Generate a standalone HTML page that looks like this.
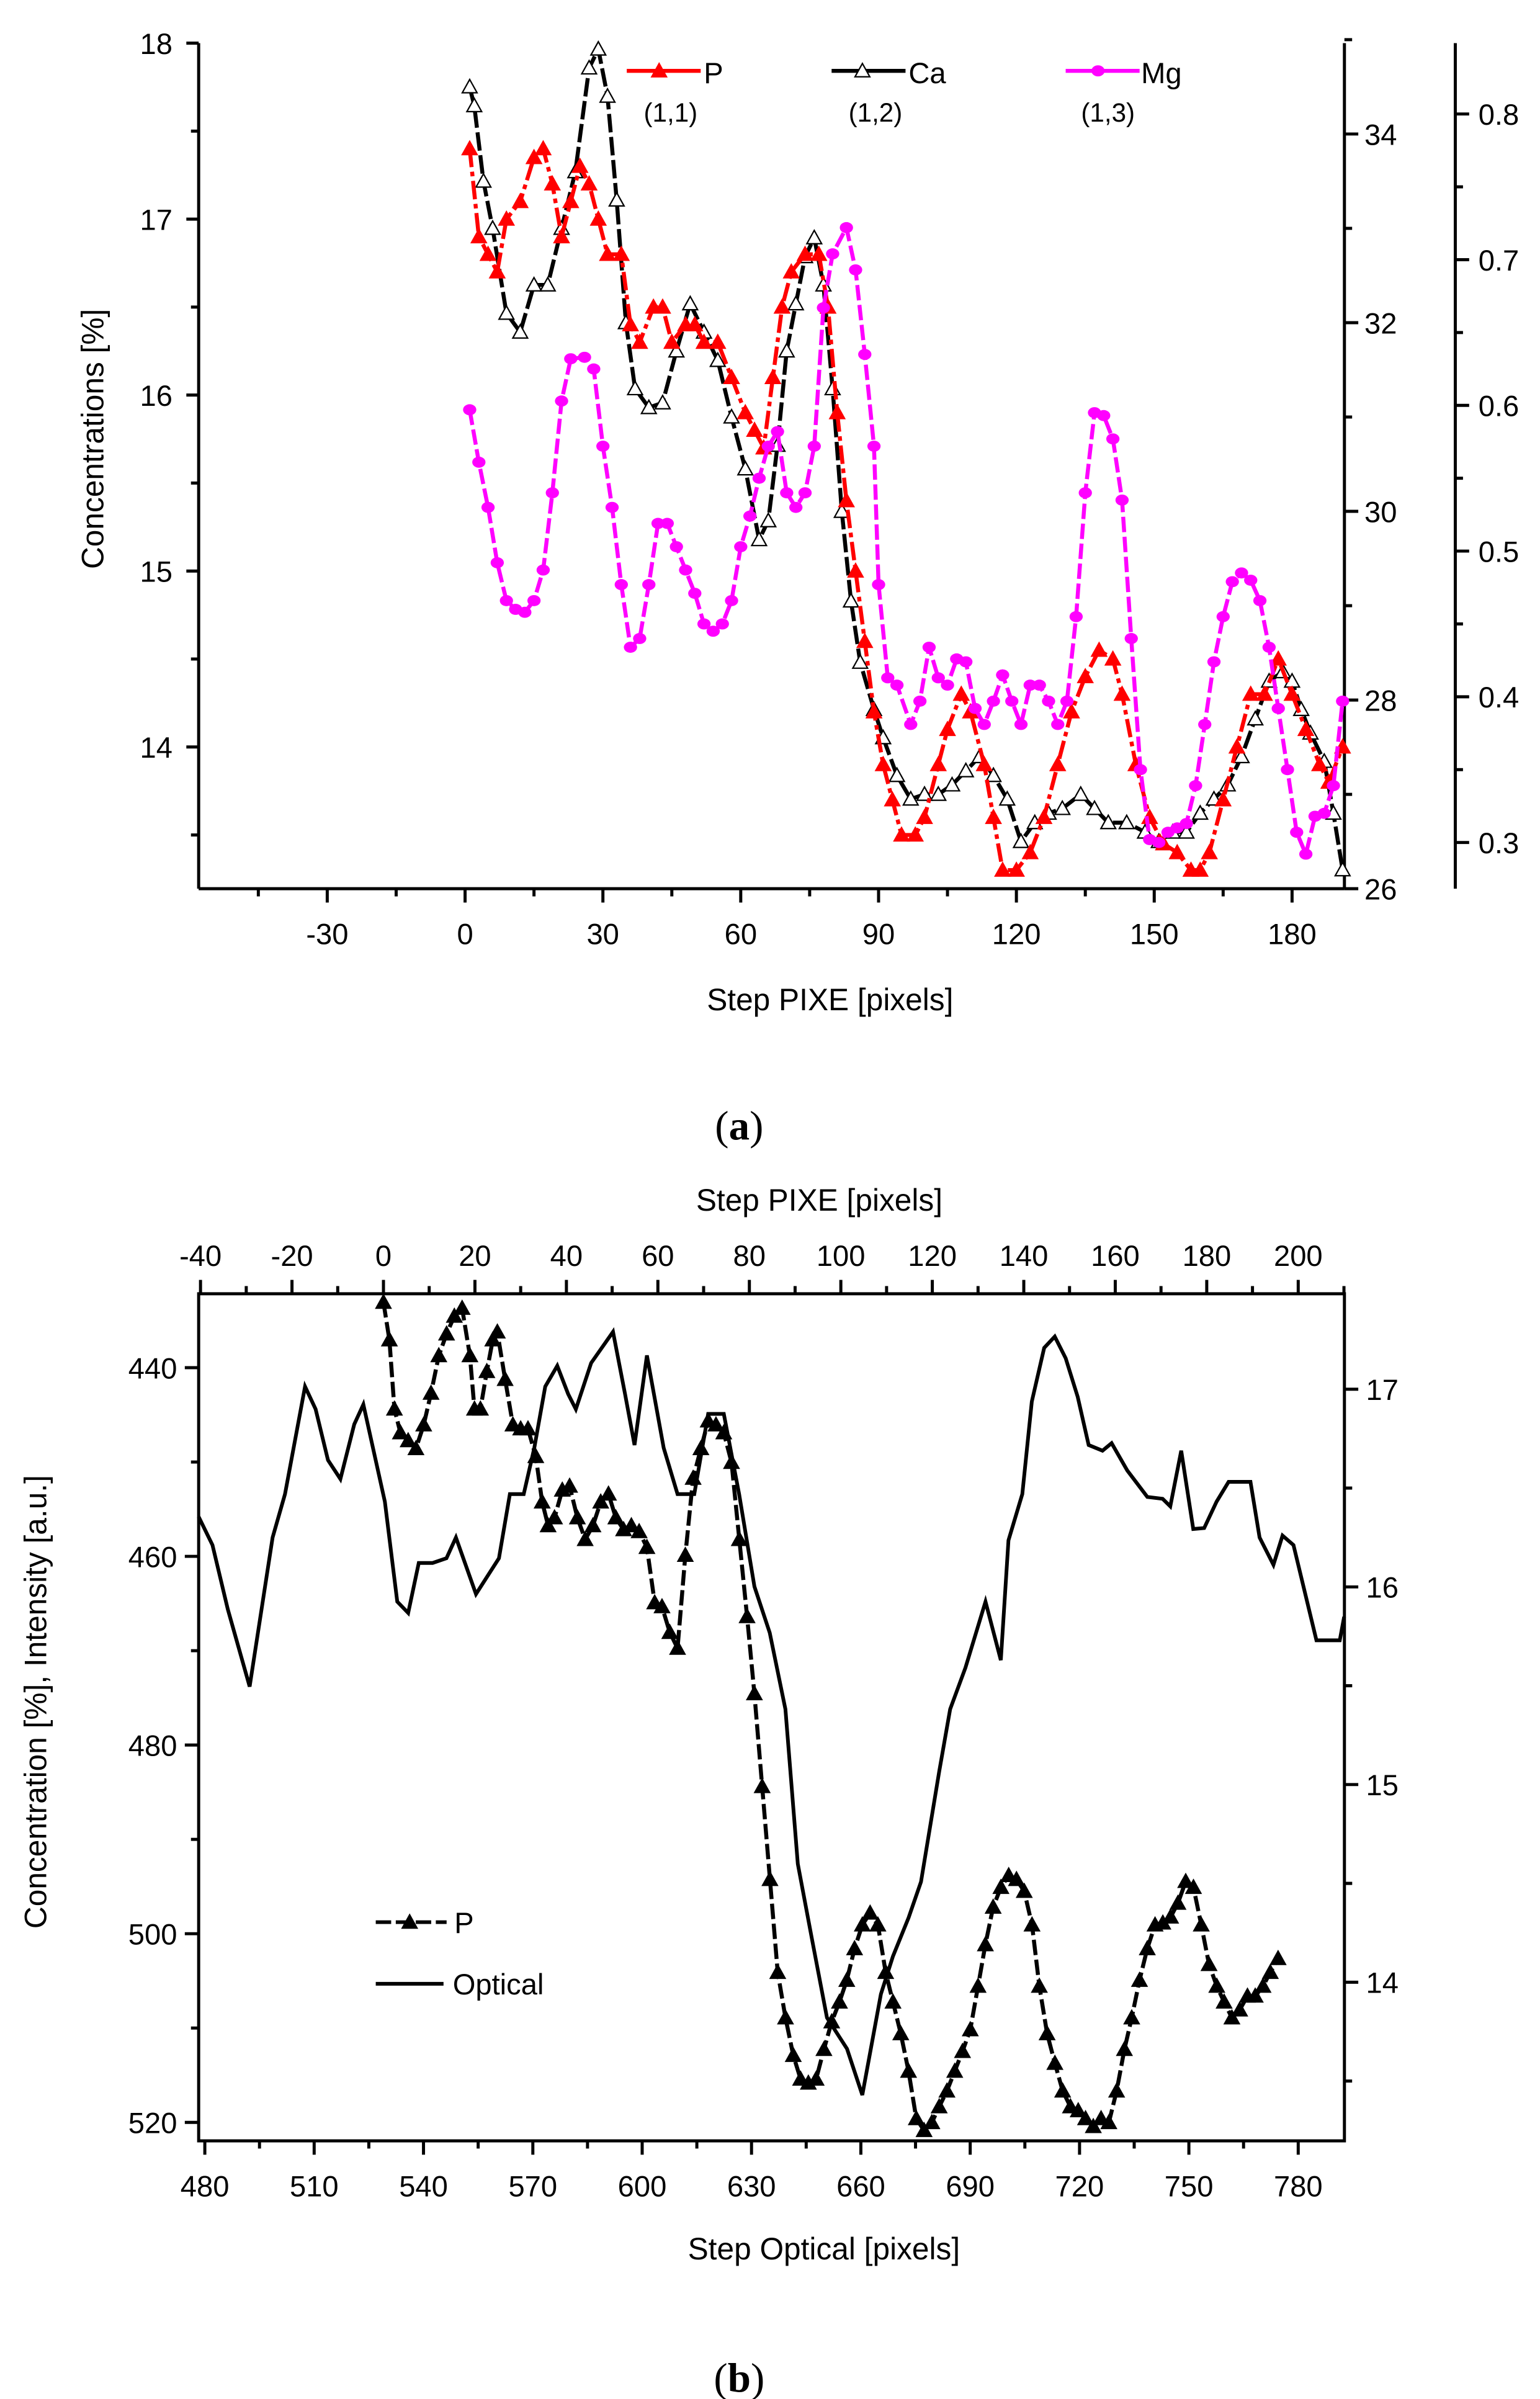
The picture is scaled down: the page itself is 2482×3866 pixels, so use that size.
<!DOCTYPE html>
<html><head><meta charset="utf-8"><style>
html,body{margin:0;padding:0;background:#fff}
svg{display:block}
text{font-family:"Liberation Sans",Arial,sans-serif;fill:#000}
</style></head><body>
<svg id="fig" width="2482" height="3866" viewBox="0 0 1000 1557.6" xmlns="http://www.w3.org/2000/svg">
<g id="top"></g>
<g id="bot"></g>
<text x="480" y="740" font-size="27" text-anchor="middle" style="font-family:'Liberation Serif',serif">(<tspan font-weight="bold">a</tspan>)</text>
<text x="480" y="1553" font-size="27" text-anchor="middle" style="font-family:'Liberation Serif',serif">(<tspan font-weight="bold">b</tspan>)</text>
</svg>
<script>
// ---------- Chart (a) data ----------
const pSteps=[1,3,5,7,9,12,15,17,19,21,23,25,27,29,31,34,36,38,41,43,45,48,50,52,55,58,61,63,65,67,69,71,74,77,79,81,83,85,87,89,91,93,95,98,100,103,105,108,110,113,115,117,120,123,126,129,132,135,138,141,143,146,149,152,155,158,160,162,165,168,171,174,177,180,183,186,188,191];
const pVals=[17.4,16.9,16.8,16.7,17.0,17.1,17.35,17.4,17.2,16.9,17.1,17.3,17.2,17.0,16.8,16.8,16.4,16.3,16.5,16.5,16.3,16.4,16.4,16.3,16.3,16.1,15.9,15.8,15.7,16.1,16.5,16.7,16.8,16.8,16.5,15.9,15.4,15.0,14.6,14.2,13.9,13.7,13.5,13.5,13.6,13.9,14.1,14.3,14.2,13.9,13.6,13.3,13.3,13.4,13.6,13.9,14.2,14.4,14.55,14.5,14.3,13.9,13.6,13.45,13.4,13.3,13.3,13.4,13.7,14.0,14.3,14.3,14.5,14.3,14.1,13.9,13.8,14.0];
const caSteps=[1,2,4,6,9,12,15,18,21,24,27,29,31,33,35,37,40,43,46,49,52,55,58,61,64,66,68,70,72,74,76,78,80,82,84,86,89,91,94,97,100,103,106,109,112,115,118,121,124,127,130,134,137,140,144,148,151,154,157,160,163,166,169,172,175,178,180,182,184,187,189,191];
const caVals=[34.5,34.3,33.5,33.0,32.1,31.9,32.4,32.4,33.0,33.6,34.7,34.9,34.4,33.3,32.0,31.3,31.1,31.15,31.7,32.2,31.9,31.6,31.0,30.45,29.7,29.9,30.7,31.7,32.2,32.7,32.9,32.4,31.3,30.0,29.05,28.4,27.9,27.6,27.2,26.95,27.0,27.0,27.1,27.25,27.4,27.2,26.95,26.5,26.7,26.8,26.85,27.0,26.85,26.7,26.7,26.6,26.5,26.6,26.6,26.8,26.95,27.1,27.4,27.8,28.2,28.3,28.2,27.9,27.65,27.35,26.8,26.2];
const mgSteps=[1,3,5,7,9,11,13,15,17,19,21,23,26,28,30,32,34,36,38,40,42,44,46,48,50,52,54,56,58,60,62,64,66,68,70,72,74,76,78,80,83,85,87,89,90,92,94,97,99,101,103,105,107,109,111,113,115,117,119,121,123,125,127,129,131,133,135,137,139,141,143,145,147,149,151,153,155,157,159,161,163,165,167,169,171,173,175,177,179,181,183,185,187,189,191];
const mgVals=[0.597,0.561,0.53,0.492,0.466,0.46,0.458,0.466,0.487,0.54,0.603,0.632,0.633,0.625,0.572,0.53,0.477,0.434,0.44,0.477,0.519,0.519,0.503,0.487,0.471,0.45,0.445,0.45,0.466,0.503,0.524,0.55,0.572,0.582,0.54,0.53,0.54,0.572,0.667,0.704,0.722,0.693,0.635,0.572,0.477,0.413,0.408,0.381,0.397,0.434,0.413,0.408,0.426,0.424,0.392,0.381,0.397,0.415,0.397,0.381,0.408,0.408,0.397,0.381,0.397,0.455,0.54,0.595,0.593,0.577,0.535,0.44,0.35,0.302,0.3,0.307,0.31,0.313,0.339,0.381,0.424,0.455,0.479,0.485,0.48,0.466,0.434,0.392,0.35,0.307,0.292,0.318,0.32,0.339,0.397];
const aXTicks=[-30,0,30,60,90,120,150,180];
const aLeftTicks=[14,15,16,17,18];
const aCaTicks=[26,28,30,32,34];
const aMgTicks=[0.3,0.4,0.5,0.6,0.7,0.8];
// ---------- Chart (b) data ----------
const optSteps=[478.3,482.1,486.3,492.3,498.6,502,507.5,510.4,513.8,517.2,521,523.5,529.4,532.8,535.8,538.7,542.5,546.3,548.9,554.4,560.7,563.7,567.5,570.4,573.4,576.7,579.7,581.8,586,592,595.3,597.9,601.3,605.9,609.7,614.3,618.1,622.4,626.6,630.8,635,639.3,642.7,646.5,650.7,656.2,660.4,665.5,668.8,673.1,676.5,681.5,684.5,688.7,694.2,698.4,700.5,704.3,706.9,710.3,713.2,716.2,719.5,722.5,726.3,728.8,733.1,738.6,742.8,744.9,747.9,751.2,754.2,757.6,760.9,766.9,769.4,773.2,775.7,778.7,785,791.4,792.6];
const optVals=[455.8,458.8,465.6,473.8,458,453.4,442,444.4,449.8,451.8,446,443.9,454.2,464.8,466,460.7,460.7,460.2,458,464,460.2,453.4,453.4,448.5,442,439.8,442.8,444.4,439.5,436.2,442.8,448.2,438.7,448.5,453.4,453.4,444.9,444.9,453.4,463.2,468.1,476.2,492.6,500.4,508.9,512.2,517.1,506.4,502.4,498.3,494.5,482.8,476.2,471.8,464.8,471,458.3,453.4,443.6,437.9,436.7,439,443.1,448.2,448.8,448,450.9,453.7,453.9,454.7,448.8,457.1,457,454.2,452.1,452.1,458,460.9,457.8,458.8,468.9,468.9,466.4];
const pbSteps=[0,1.3,2.4,3.7,5.4,7.1,8.8,10.4,12.1,13.8,15.5,17.2,18.9,19.9,21.2,22.6,23.9,24.9,26.6,28.3,30,31.6,33.3,34.7,36,37.4,39.1,40.7,42.4,44.1,45.8,47.5,49.2,50.8,52.5,54.2,55.9,57.6,59.3,60.9,62.6,64.3,66,67.7,69.4,71,72.7,74.4,76.1,77.8,79.5,81.1,82.8,84.5,86.2,87.9,89.6,91.2,92.9,94.6,96.3,98,99.7,101.3,103,104.7,106.4,108.1,109.8,111.4,113.1,114.8,116.5,118.2,119.9,121.5,123.2,124.9,126.6,128.3,130,131.6,133.3,135,136.7,138.4,140.1,141.8,143.4,145.1,146.8,148.5,150.2,151.9,153.5,155.2,156.9,158.6,160.3,162,163.6,165.3,167,168.7,170.4,172.1,173.7,175.4,177.1,178.8,180.5,182.2,183.8,185.5,187.2,188.9,190.6,192.3,193.9,195.6];
const pbVals=[17.44,17.25,16.9,16.78,16.74,16.7,16.82,16.98,17.17,17.28,17.37,17.41,17.17,16.9,16.9,17.09,17.25,17.29,17.05,16.82,16.8,16.8,16.66,16.43,16.31,16.35,16.49,16.51,16.35,16.24,16.31,16.43,16.47,16.35,16.29,16.31,16.28,16.2,15.92,15.9,15.77,15.69,16.16,16.55,16.7,16.84,16.82,16.78,16.63,16.24,15.85,15.46,14.99,14.52,14.05,13.82,13.63,13.51,13.49,13.51,13.66,13.8,13.9,14.01,14.17,14.29,14.35,14.29,14.05,13.9,13.74,13.55,13.31,13.25,13.29,13.37,13.45,13.55,13.65,13.76,13.98,14.19,14.38,14.48,14.54,14.52,14.46,14.29,13.98,13.74,13.59,13.45,13.37,13.35,13.31,13.27,13.31,13.29,13.45,13.66,13.82,14.01,14.17,14.29,14.3,14.33,14.4,14.51,14.48,14.29,14.09,13.98,13.9,13.82,13.86,13.93,13.93,13.98,14.05,14.12];
const bBotTicks=[480,510,540,570,600,630,660,690,720,750,780];
const bTopTicks=[-40,-20,0,20,40,60,80,100,120,140,160,180,200];
const bLeftTicks=[440,460,480,500,520];
const bRightTicks=[14,15,16,17];

const NS='http://www.w3.org/2000/svg';
function mk(parent,tag,attrs,txt){const e=document.createElementNS(NS,tag);for(const k in attrs)e.setAttribute(k,attrs[k]);if(txt!==undefined)e.textContent=txt;parent.appendChild(e);return e;}
function lin(d0,d1,r0,r1){return v=>r0+(v-d0)*(r1-r0)/(d1-d0);}
function tri(g,x,y,s,fill,stroke){return mk(g,'polygon',{points:`${x},${y-s} ${x-s},${y+s*0.8} ${x+s},${y+s*0.8}`,fill:fill,stroke:stroke,'stroke-width':0.9});}

// ===== Chart (a) =====
const A=document.getElementById('top');
const L=129,R=873,T=28,B=577;
const ax=lin(0,30,302,391.5);
const ayL=lin(14,18,485,28);
const ayCa=lin(26,34,577,87);
const ayMg=lin(0.3,0.8,547,74);
let ln;
ln=mk(A,'line',{x1:L,y1:T,x2:L,y2:B,stroke:'#000','stroke-width':2});

ln=mk(A,'line',{x1:L,y1:B,x2:R,y2:B,stroke:'#000','stroke-width':2});

ln=mk(A,'line',{x1:R,y1:T,x2:R,y2:B,stroke:'#000','stroke-width':2});

ln=mk(A,'line',{x1:945,y1:T,x2:945,y2:B,stroke:'#000','stroke-width':2});

aXTicks.forEach(v=>{const x=ax(v);mk(A,'line',{x1:x,y1:B,x2:x,y2:B+9,stroke:'#000','stroke-width':2});
 const t=mk(A,'text',{x:x,y:B+36,'font-size':19,'text-anchor':'middle'},String(v));
 
 const xm=ax(v+15);if(xm<R)mk(A,'line',{x1:xm,y1:B,x2:xm,y2:B+5,stroke:'#000','stroke-width':2});});
mk(A,'line',{x1:ax(-45),y1:B,x2:ax(-45),y2:B+5,stroke:'#000','stroke-width':2});
aLeftTicks.forEach(v=>{const y=ayL(v);mk(A,'line',{x1:L-8,y1:y,x2:L,y2:y,stroke:'#000','stroke-width':2});
 const t=mk(A,'text',{x:L-17,y:y+7,'font-size':19,'text-anchor':'end'},String(v));
 
 if(v<18)mk(A,'line',{x1:L-5,y1:ayL(v+0.5),x2:L,y2:ayL(v+0.5),stroke:'#000','stroke-width':2});});
mk(A,'line',{x1:L-5,y1:ayL(13.5),x2:L,y2:ayL(13.5),stroke:'#000','stroke-width':2});
aCaTicks.forEach(v=>{const y=ayCa(v);mk(A,'line',{x1:R,y1:y,x2:R+9,y2:y,stroke:'#000','stroke-width':2});
 const t=mk(A,'text',{x:R+13,y:y+7,'font-size':19},String(v));
 
 mk(A,'line',{x1:R,y1:ayCa(v+1),x2:R+5,y2:ayCa(v+1),stroke:'#000','stroke-width':2});});
aMgTicks.forEach(v=>{const y=ayMg(v);mk(A,'line',{x1:945,y1:y,x2:954,y2:y,stroke:'#000','stroke-width':2});
 const t=mk(A,'text',{x:960,y:y+7,'font-size':19},v.toFixed(1));
 
 const ym=ayMg(v+0.05);if(ym>T)mk(A,'line',{x1:945,y1:ym,x2:950,y2:ym,stroke:'#000','stroke-width':2});});
mk(A,'line',{x1:945,y1:ayMg(0.25+0.02),x2:945,y2:ayMg(0.25+0.02),stroke:'#000'});
let tt=mk(A,'text',{x:539,y:656,'font-size':20,'text-anchor':'middle'},'Step PIXE [pixels]');

tt=mk(A,'text',{x:0,y:0,'font-size':20,'text-anchor':'middle',transform:'translate(67,285) rotate(-90)'},'Concentrations [%]');


function series(g,steps,vals,fx,fy,color,dash,name,marker){
 const s=mk(g,'g',{});
 
 const pts=steps.map((st,i)=>fx(st).toFixed(2)+','+fy(vals[i]).toFixed(2)).join(' ');
 mk(s,'polyline',{points:pts,fill:'none',stroke:color,'stroke-width':2.6,'stroke-dasharray':dash});
 steps.forEach((st,i)=>{const x=fx(st),y=fy(vals[i]);
  if(x<L-1||x>R+1)return;
  let m;
  if(marker==='tri')m=tri(s,x,y,4.8,color,color);
  else if(marker==='otri')m=tri(s,x,y,4.8,'#fff','#000');
  else m=mk(s,'ellipse',{cx:x,cy:y,rx:4.3,ry:3.6,fill:color});
  });
 return s;}
series(A,caSteps,caVals,ax,ayCa,'#000','12 3','ca-series','otri');
series(A,pSteps,pVals,ax,ayL,'#ff0000','12 3 3 3','p-series','tri');
series(A,mgSteps,mgVals,ax,ayMg,'#ff00ff','10 3','mg-series','circ');
// legend a
function legA(x1,x2,mx,color,marker,label,lx,sub,sx,name){
 const g=mk(A,'g',{});
 mk(g,'line',{x1:x1,y1:46,x2:x2,y2:46,stroke:color,'stroke-width':2.6});
 if(marker==='tri')tri(g,mx,46,4.8,color,color);else if(marker==='otri')tri(g,mx,46,4.8,'#fff','#000');else mk(g,'ellipse',{cx:mx,cy:46,rx:4.3,ry:3.6,fill:color});
 mk(g,'text',{x:lx,y:54,'font-size':19},label);
 mk(g,'text',{x:sx,y:79,'font-size':17},sub);}
legA(407,455,428,'#ff0000','tri','P',457,'(1,1)',418,'legend-p');
legA(540,588,560,'#000','otri','Ca',590,'(1,2)',551,'legend-ca');
legA(692,740,713,'#ff00ff','circ','Mg',741,'(1,3)',702,'legend-mg');

// ===== Chart (b) =====
const Bg=document.getElementById('bot');
const T2=840,B2=1390;
const bxO=lin(480,780,133,843);
const bxP=lin(0,200,249,843);
const byL=lin(440,520,888,1378);
const byR=lin(14,17,1287,902);
ln=mk(Bg,'rect',{x:L,y:T2,width:R-L,height:B2-T2,fill:'none',stroke:'#000','stroke-width':2});

bBotTicks.forEach(v=>{const x=bxO(v);mk(Bg,'line',{x1:x,y1:B2,x2:x,y2:B2+9,stroke:'#000','stroke-width':2});
 const t=mk(Bg,'text',{x:x,y:B2+36,'font-size':19,'text-anchor':'middle'},String(v));
 
 const xm=bxO(v+15);if(xm<R)mk(Bg,'line',{x1:xm,y1:B2,x2:xm,y2:B2+5,stroke:'#000','stroke-width':2});});
bTopTicks.forEach(v=>{const x=bxP(v);mk(Bg,'line',{x1:x,y1:T2-9,x2:x,y2:T2,stroke:'#000','stroke-width':2});
 const t=mk(Bg,'text',{x:x,y:T2-18,'font-size':19,'text-anchor':'middle'},String(v));
 
 const xm=bxP(v+10);if(xm<R)mk(Bg,'line',{x1:xm,y1:T2-5,x2:xm,y2:T2,stroke:'#000','stroke-width':2});});
bLeftTicks.forEach(v=>{const y=byL(v);mk(Bg,'line',{x1:L-9,y1:y,x2:L,y2:y,stroke:'#000','stroke-width':2});
 const t=mk(Bg,'text',{x:L-14,y:y+7,'font-size':19,'text-anchor':'end'},String(v));
 
 const ym=byL(v-10);if(ym>T2)mk(Bg,'line',{x1:L-5,y1:ym,x2:L,y2:ym,stroke:'#000','stroke-width':2});});
bRightTicks.forEach(v=>{const y=byR(v);mk(Bg,'line',{x1:R,y1:y,x2:R+9,y2:y,stroke:'#000','stroke-width':2});
 const t=mk(Bg,'text',{x:R+14,y:y+7,'font-size':19},String(v));
 
 [v-0.5,v+0.5].forEach(m=>{const ym=byR(m);if(ym>T2&&ym<B2)mk(Bg,'line',{x1:R,y1:ym,x2:R+5,y2:ym,stroke:'#000','stroke-width':2});});});
tt=mk(Bg,'text',{x:532,y:786,'font-size':20,'text-anchor':'middle'},'Step PIXE [pixels]');

tt=mk(Bg,'text',{x:535,y:1467,'font-size':20,'text-anchor':'middle'},'Step Optical [pixels]');

tt=mk(Bg,'text',{x:0,y:0,'font-size':20,'text-anchor':'middle',transform:'translate(30,1105) rotate(-90)'},'Concentration [%], Intensity [a.u.]');

const og=mk(Bg,'g',{});

mk(og,'polyline',{points:optSteps.map((s,i)=>bxO(s).toFixed(2)+','+byL(optVals[i]).toFixed(2)).join(' '),fill:'none',stroke:'#000','stroke-width':2.4});
series(Bg,pbSteps,pbVals,bxP,byR,'#000','10 3','p-series-b','tri');
let lg=mk(Bg,'g',{});
mk(lg,'line',{x1:244,y1:1248,x2:290,y2:1248,stroke:'#000','stroke-width':2.4,'stroke-dasharray':'10 3'});
tri(lg,266,1248,4.8,'#000','#000');
mk(lg,'text',{x:295,y:1255,'font-size':19},'P');
lg=mk(Bg,'g',{});
mk(lg,'line',{x1:244,y1:1288,x2:288,y2:1288,stroke:'#000','stroke-width':2.4});
mk(lg,'text',{x:294,y:1295,'font-size':19},'Optical');
</script>
</body></html>
